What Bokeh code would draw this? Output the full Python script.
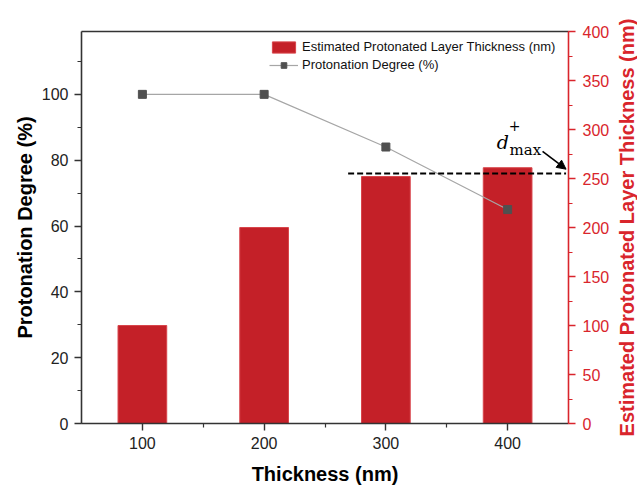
import math
from bokeh.plotting import figure
from bokeh.layouts import row
from bokeh.models import (Range1d, LinearAxis, FixedTicker, SingleIntervalTicker,
                          Legend, LegendItem, Label, Arrow, NormalHead)
from bokeh.embed import file_html
from bokeh.resources import INLINE

# ---- data ----
thickness = [100, 200, 300, 400]
protonated_layer = [100, 200, 252, 261]      # nm (right axis)
protonation_degree = [100, 100, 84, 65]      # % (left axis)
x_ticks = [100, 200, 300, 400]
x_minor = [150, 250, 350]
dmax_value = 255
dmax_span = [269, 448]

FONT = "Liberation Sans"
RED_AX = "#D9252C"
RED_BAR = "#C42028"
DARK = "#333333"

p = figure(width=612, height=487, output_backend="svg", toolbar_location=None,
           x_range=Range1d(50, 450), y_range=Range1d(0, 119.1),
           min_border_left=81, min_border_right=44, min_border_top=31, min_border_bottom=63)
p.extra_y_ranges = {"right": Range1d(0, 400)}
p.xgrid.visible = False
p.ygrid.visible = False
p.outline_line_color = None
p.background_fill_color = "white"
p.border_fill_color = "white"

# bars
bars = p.vbar(x=thickness, top=protonated_layer, width=40, bottom=0,
              y_range_name="right", fill_color=RED_BAR, line_color="#D8454B", line_width=1)

# line + markers
ln = p.line(thickness, protonation_degree, line_color="#A6A6A6", line_width=1.2)
sc = p.scatter(thickness, protonation_degree, marker="square", size=8,
               fill_color="#505050", line_color="#505050")

# dashed d_max line
p.line(dmax_span, [dmax_value, dmax_value], y_range_name="right",
       line_color="black", line_width=2, line_dash="6 3")

# arrow
p.add_layout(Arrow(end=NormalHead(size=9, fill_color="black", line_color="black"),
                   x_start=428.7, y_start=277.6, x_end=448, y_end=259.5,
                   y_range_name="right", line_color="black", line_width=1.6))

# d_max label pieces
p.add_layout(Label(x=391, y=287.7, y_range_name="right", text="d",
                   text_font="DejaVu Serif", text_font_style="italic", text_font_size="19px",
                   text_baseline="alphabetic", text_align="left", text_color="black"))
p.add_layout(Label(x=405.7, y=304, y_range_name="right", text="+",
                   text_font="DejaVu Serif", text_font_size="14px",
                   text_baseline="middle", text_align="center", text_color="black"))
p.add_layout(Label(x=401.6, y=278.6, y_range_name="right", text="max",
                   text_font="DejaVu Serif", text_font_size="15px",
                   text_baseline="alphabetic", text_align="left", text_color="black"))

# x axis (bottom)
xa = p.xaxis[0]
xa.ticker = FixedTicker(ticks=x_ticks, minor_ticks=x_minor)
xa.axis_label = "Thickness (nm)"

# left axis
ya = p.yaxis[0]
ya.ticker = SingleIntervalTicker(interval=20, num_minor_ticks=2)
ya.axis_label = "Protonation Degree (%)"

for ax in (xa, ya):
    ax.axis_line_color = DARK
    ax.axis_line_width = 1.6
    ax.major_tick_line_color = DARK
    ax.minor_tick_line_color = DARK
    ax.major_tick_line_width = 1.4
    ax.minor_tick_line_width = 1.2
    ax.major_tick_in = 0
    ax.major_tick_out = 7
    ax.minor_tick_in = 0
    ax.minor_tick_out = 4
    ax.major_label_text_font = FONT
    ax.major_label_text_font_size = "16px"
    ax.major_label_text_color = "#222222"
    ax.axis_label_text_font = FONT
    ax.axis_label_text_font_size = "20px"
    ax.axis_label_text_font_style = "bold"
    ax.axis_label_text_color = "black"
xa.major_label_standoff = 6
xa.axis_label_standoff = 11
ya.major_label_standoff = 6
ya.axis_label_standoff = 3

# right axis
ra = LinearAxis(y_range_name="right",
                ticker=SingleIntervalTicker(interval=50, num_minor_ticks=2))
ra.axis_line_color = RED_AX
ra.axis_line_width = 1.6
ra.major_tick_line_color = RED_AX
ra.minor_tick_line_color = RED_AX
ra.major_tick_line_width = 1.4
ra.minor_tick_line_width = 1.2
ra.major_tick_in = 0
ra.major_tick_out = 7
ra.minor_tick_in = 0
ra.minor_tick_out = 4
ra.major_label_text_font = FONT
ra.major_label_text_font_size = "16px"
ra.major_label_text_color = RED_AX
ra.major_label_standoff = 7
p.add_layout(ra, "right")

# top frame line
ta = LinearAxis(ticker=FixedTicker(ticks=[]), major_label_text_font_size="0px")
ta.axis_line_color = DARK
ta.axis_line_width = 1.6
ta.major_tick_line_color = None
ta.minor_tick_line_color = None
p.add_layout(ta, "above")

# legend
legend = Legend(items=[
    LegendItem(label="Estimated Protonated Layer Thickness (nm)", renderers=[bars]),
    LegendItem(label="Protonation Degree (%)", renderers=[ln, sc]),
], location=(188, 351))
legend.label_text_font = FONT
legend.label_text_font_size = "13px"
legend.label_text_color = "#111111"
legend.glyph_width = 29
legend.glyph_height = 14
legend.label_height = 14
legend.spacing = 3
legend.label_standoff = 4
legend.padding = 0
legend.margin = 0
legend.border_line_color = None
legend.background_fill_alpha = 0
p.add_layout(legend, "center")

# narrow strip whose (left) axis title carries the right-axis title, reading bottom-to-top
p2 = figure(width=25, height=487, output_backend="svg", toolbar_location=None, title=None,
            x_range=Range1d(0, 1), y_range=Range1d(0, 400),
            x_axis_location=None, y_axis_location="left",
            min_border_left=0, min_border_right=0, min_border_top=22, min_border_bottom=63)
p2.xgrid.visible = False
p2.ygrid.visible = False
p2.outline_line_color = None
p2.background_fill_color = "white"
p2.border_fill_color = "white"
ax2 = p2.yaxis[0]
ax2.ticker = FixedTicker(ticks=[])
ax2.axis_line_color = None
ax2.major_tick_line_color = None
ax2.minor_tick_line_color = None
ax2.major_label_text_font_size = "0px"
ax2.major_tick_out = 0
ax2.minor_tick_out = 0
ax2.major_label_standoff = 0
ax2.axis_label = "Estimated Protonated Layer Thickness (nm)"
ax2.axis_label_standoff = 0
ax2.axis_label_text_font = FONT
ax2.axis_label_text_font_size = "20px"
ax2.axis_label_text_font_style = "bold"
ax2.axis_label_text_color = RED_AX

layout = row(p, p2, spacing=0)
open("out.html", "w").write(file_html(layout, INLINE))
